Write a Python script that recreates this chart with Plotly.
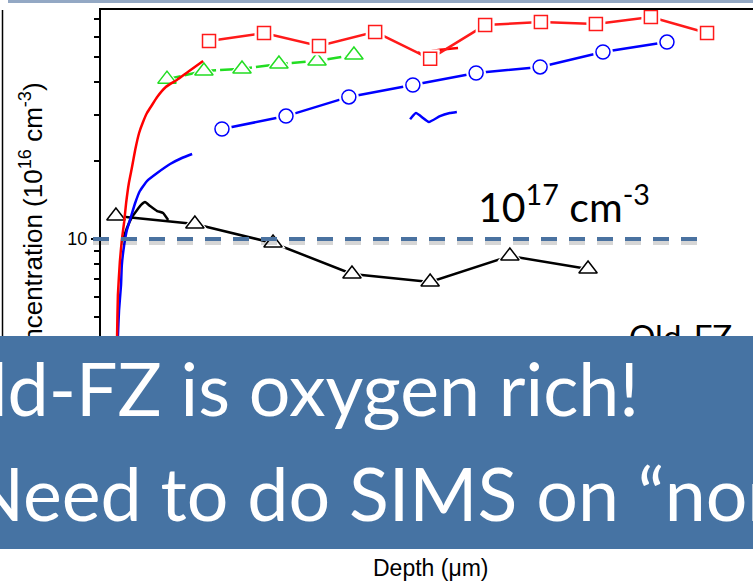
import math
import plotly.graph_objects as go

# ---------------- data (depth in um, concentration in 1e16 cm^-3) ----------------
red_sq_depth = [2.75, 4.15, 5.55, 6.98, 8.38, 9.78, 11.20, 12.60, 14.00, 15.43]
red_sq_conc = [57.7, 62.0, 55.3, 62.6, 49.3, 66.5, 68.3, 67.1, 71.4, 62.0]

green_tri_depth = [1.68, 2.62, 3.59, 4.53, 5.50, 6.44]
green_tri_conc = [41.2, 44.3, 45.1, 47.1, 48.4, 51.0]

blue_circ_depth = [3.08, 4.71, 6.31, 7.94, 9.55, 11.18, 12.78, 14.41]
blue_circ_conc = [26.5, 29.7, 35.2, 39.1, 43.5, 45.9, 52.4, 57.2]

black_tri_depth = [0.38, 2.39, 4.38, 6.39, 8.38, 10.41, 12.40]
black_tri_conc = [12.26, 11.42, 9.65, 7.34, 6.83, 8.60, 7.67]

red_prof_depth = [0.40, 0.41, 0.43, 0.48, 0.53, 0.59, 0.64, 0.71, 0.79, 0.87,
                  0.97, 1.07, 1.17, 1.30, 1.43, 1.65, 1.93, 2.21, 2.60]
red_prof_conc = [2.40, 4.27, 6.09, 8.16, 9.91, 11.63, 13.76, 16.42, 18.92, 21.99,
                 25.57, 28.18, 30.52, 32.77, 35.17, 38.42, 40.88, 43.88, 48.37]

blue_prof_depth = [0.42, 0.43, 0.46, 0.51, 0.53, 0.59, 0.66, 0.76, 0.87, 0.99,
                   1.17, 1.43, 1.76, 2.06, 2.32]
blue_prof_conc = [2.40, 4.20, 5.33, 6.66, 7.94, 9.48, 10.83, 12.15, 13.76, 15.30,
                  16.71, 17.94, 19.43, 20.49, 21.23]

black_prof_depth = [0.56, 0.66, 0.79, 0.92, 1.02, 1.12, 1.25, 1.43, 1.58, 1.71]
black_prof_conc = [9.91, 11.02, 12.15, 12.93, 13.52, 13.88, 13.39, 12.81, 12.59, 11.83]

blue_stroke_depth = [7.87, 8.02, 8.35, 8.63, 8.88, 9.06]
blue_stroke_conc = [28.9, 30.5, 28.2, 29.7, 30.5, 30.8]

red_stroke_depth = [8.07, 8.22, 8.43, 9.09]
red_stroke_conc = [52.4, 50.5, 52.9, 54.3]

THRESHOLD = 10  # 1e17 cm^-3 in units of 1e16 cm^-3

y_major_ticks = [1, 10]
y_minor_ticks = [2, 3, 4, 5, 6, 7, 8, 9, 20, 30, 40, 50, 60, 70]

# ---------------- geometry ----------------
W, H = 753, 585
ML, MT, MR, MB = 101, 10, 0, 65
PW, PH = W - ML - MR, H - MT - MB
X_RANGE = [0, 16.6]
Y_LOG_RANGE = [-0.0808, 1.8808]


def px_x(px):
    return (px - ML) / PW


def px_y(py):
    return 1 - (py - MT) / PH


def conc_to_paper(v):
    return (math.log10(v) - Y_LOG_RANGE[0]) / (Y_LOG_RANGE[1] - Y_LOG_RANGE[0])


fig = go.Figure()


def add_series(xs, ys, color, symbol, size, halo, dash="solid"):
    fig.add_trace(go.Scatter(x=xs, y=ys, mode="lines",
                             line=dict(color=color, width=2.5, dash=dash)))
    fig.add_trace(go.Scatter(x=xs, y=ys, mode="markers",
                             marker=dict(symbol=symbol, size=size + halo, color="white",
                                         line=dict(width=0))))
    fig.add_trace(go.Scatter(x=xs, y=ys, mode="markers",
                             marker=dict(symbol=symbol, size=size, color="white",
                                         line=dict(color=color, width=1.5))))


def add_curve(xs, ys, color):
    fig.add_trace(go.Scatter(x=xs, y=ys, mode="lines",
                             line=dict(color=color, width=2.5, shape="spline", smoothing=0.4)))


add_curve(black_prof_depth, black_prof_conc, "black")
add_series(black_tri_depth, black_tri_conc, "black", "triangle-up", 16, 6)
add_curve(blue_prof_depth, blue_prof_conc, "#0000ff")
add_curve(blue_stroke_depth, blue_stroke_conc, "#0000ff")
add_series(blue_circ_depth, blue_circ_conc, "#0000ff", "circle", 14, 6)
add_series(green_tri_depth, green_tri_conc, "#22dd22", "triangle-up", 16, 6, dash="14px,4px")
add_curve(red_prof_depth, red_prof_conc, "#ff0000")
add_curve(red_stroke_depth, red_stroke_conc, "#ff0000")
add_series(red_sq_depth, red_sq_conc, "#ff1a1a", "square", 13, 6)

# threshold line with soft shadow
ty = conc_to_paper(THRESHOLD)
shadow_dy = 3 / PH
shapes = [
    dict(type="line", xref="paper", yref="paper", x0=px_x(93), x1=px_x(698),
         y0=ty - shadow_dy, y1=ty - shadow_dy, layer="above",
         line=dict(color="rgba(0,0,0,0.16)", width=6, dash="16px,12px")),
    dict(type="line", xref="paper", yref="paper", x0=px_x(93), x1=px_x(698),
         y0=ty, y1=ty, layer="above",
         line=dict(color="#4a72a0", width=4, dash="16px,12px")),
    # slide decorations: top strip and left rule
    dict(type="rect", xref="paper", yref="paper", x0=px_x(8), x1=px_x(760),
         y0=px_y(0), y1=px_y(3), layer="above", line=dict(width=0),
         fillcolor="#93a8c4"),
    dict(type="line", xref="paper", yref="paper", x0=px_x(2.5), x1=px_x(2.5),
         y0=px_y(10), y1=px_y(340), layer="above", line=dict(color="black", width=1.5)),
]

annotations = [
    dict(text="Concentration (10<sup>16</sup> cm<sup>-3</sup>)", textangle=-90,
         xref="paper", yref="paper", x=px_x(31), y=px_y(229),
         xanchor="center", yanchor="middle", showarrow=False,
         font=dict(family="Liberation Sans, Arial", size=26, color="black")),
    dict(text="Old-FZ", xref="paper", yref="paper", x=px_x(627), y=px_y(336),
         xanchor="left", yanchor="middle", showarrow=False,
         font=dict(family="Lato", size=33, color="black")),
    dict(text="10<sup>17</sup> cm<sup>-3</sup>", xref="paper", yref="paper",
         x=px_x(476), y=px_y(204), xanchor="left", yanchor="middle", showarrow=False,
         font=dict(family="Lato", size=41, color="black")),
    dict(text=" ", xref="paper", yref="paper", x=px_x(-20), y=px_y(336),
         xanchor="left", yanchor="top", showarrow=False, width=800, height=213,
         bgcolor="#4673a3", borderpad=0, borderwidth=0),
    dict(text="Old-FZ is oxygen rich!", xref="paper", yref="paper",
         x=px_x(-70), y=px_y(387), xanchor="left", yanchor="middle", showarrow=False,
         font=dict(family="Lato", size=73.5, color="white")),
    dict(text="Need to do SIMS on \u201cnon-oxygenated\u201d FZ", xref="paper", yref="paper",
         x=px_x(-34), y=px_y(492), xanchor="left", yanchor="middle", showarrow=False,
         font=dict(family="Lato", size=73.5, color="white")),
    dict(text="Depth (\u03bcm)", xref="paper", yref="paper", x=px_x(431), y=px_y(568),
         xanchor="center", yanchor="middle", showarrow=False,
         font=dict(family="Liberation Sans, Arial", size=23, color="black")),
]

fig.update_layout(
    width=W, height=H,
    margin=dict(l=ML, r=MR, t=MT, b=MB, pad=0),
    paper_bgcolor="white", plot_bgcolor="white",
    showlegend=False, hovermode=False,
    shapes=shapes, annotations=annotations,
    xaxis=dict(range=X_RANGE, showgrid=False, zeroline=False, showline=True,
               linecolor="black", linewidth=2, mirror=True, ticks="outside",
               ticklen=6, tickwidth=1.5, tickcolor="black",
               tickfont=dict(family="Liberation Sans, Arial", size=16, color="black")),
    yaxis=dict(type="log", range=Y_LOG_RANGE, showgrid=False, zeroline=False,
               showline=True, linecolor="black", linewidth=2, mirror=False,
               tickmode="array", tickvals=y_major_ticks,
               ticktext=[str(v) for v in y_major_ticks],
               ticks="outside", ticklen=8, tickwidth=1.5, tickcolor="black",
               tickfont=dict(family="Liberation Sans, Arial", size=18, color="black"),
               minor=dict(tickmode="array", tickvals=y_minor_ticks, ticks="outside",
                          ticklen=5, tickwidth=1.5, tickcolor="black")),
)

fig.write_html("out.html")
